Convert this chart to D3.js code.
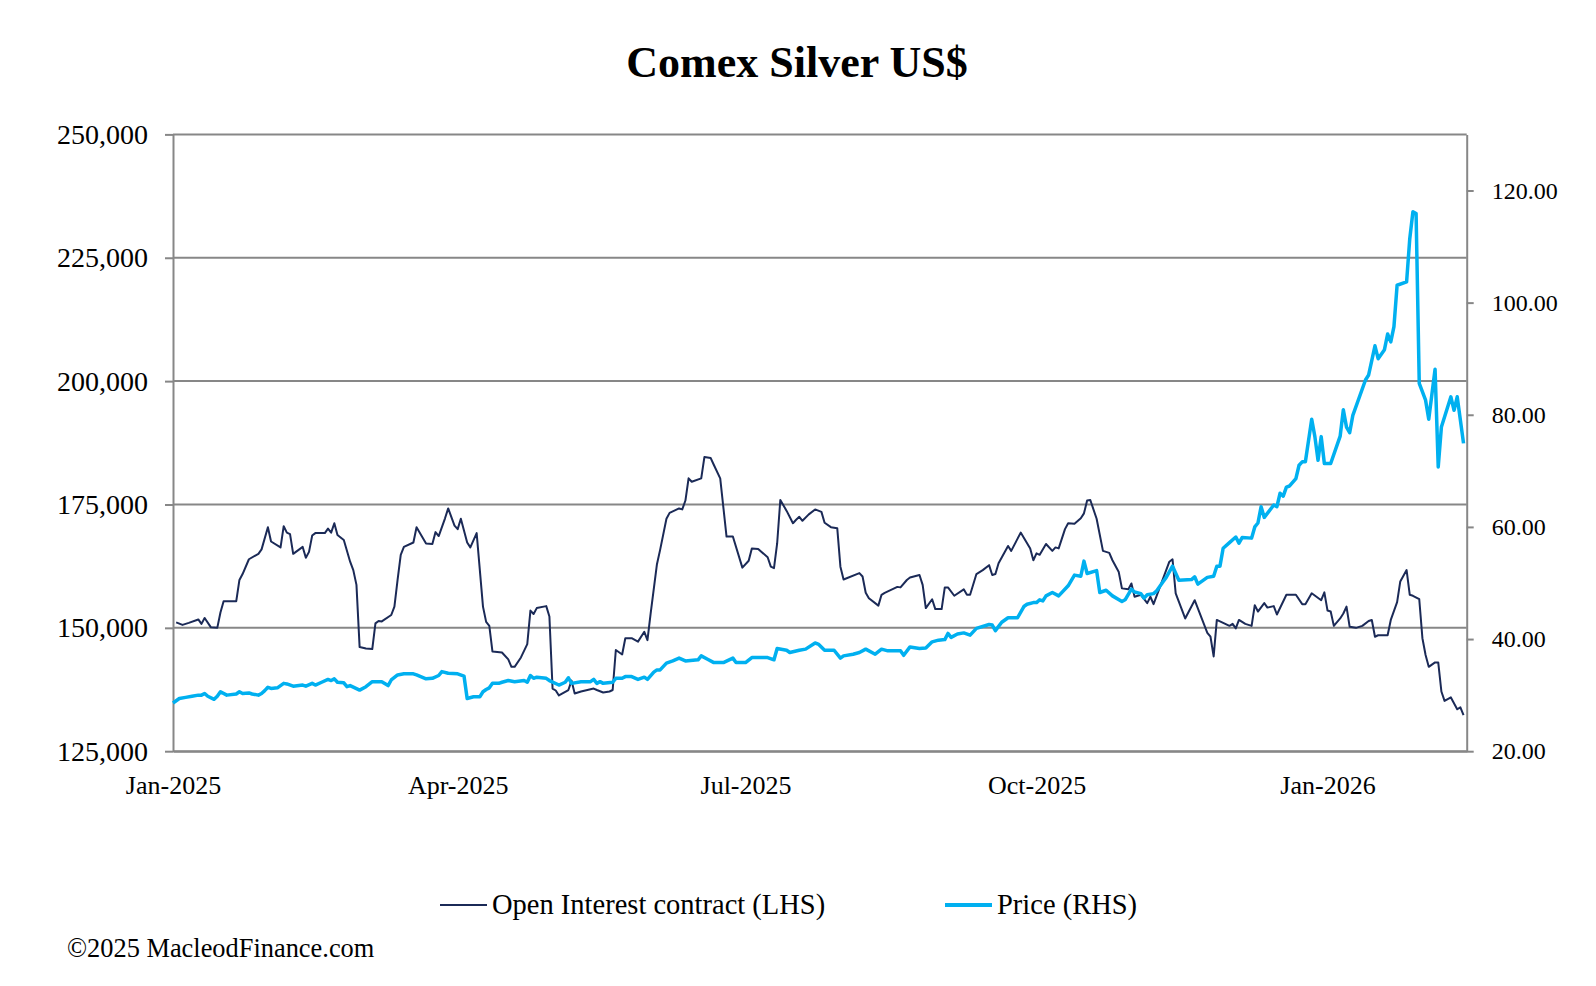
<!DOCTYPE html>
<html>
<head>
<meta charset="utf-8">
<script src="https://cdnjs.cloudflare.com/ajax/libs/d3/7.8.5/d3.min.js"></script>
<style>
  body { margin: 0; background: #fff; }
  text { font-family: "Liberation Serif", "Times New Roman", serif; fill: #000; }
</style>
</head>
<body>
<div id="chart"></div>
<script>
// Open interest (days counted from 1 Jan 2025)
const oiDays = [1,3,5,8,9,10,12,14,15,16,20,21,22,24,27,28,30,31,34,35,36,37,38,41,42,43,44,45,48,49,50,51,52,54,56,57,58,59,61,63,64,65,66,69,70,71,72,73,76,77,80,82,83,84,86,87,89,90,91,93,94,96,98,99,100,101,104,106,107,108,110,112,113,114,115,118,119,120,121,122,125,126,127,129,133,134,136,138,139,140,142,143,145,147,149,150,151,153,154,156,157,160,161,162,163,164,167,168,170,171,173,175,177,180,182,183,185,188,189,190,191,192,194,196,197,198,199,201,203,205,206,208,210,211,212,217,218,219,220,223,224,225,227,229,230,232,233,236,237,238,240,241,243,244,245,247,250,251,252,254,256,258,259,260,261,264,265,268,271,272,273,274,276,278,279,280,282,283,285,287,288,289,290,292,294,296,297,299,300,302,303,304,306,308,309,310,315,316,317,320,323,327,328,329,330,334,335,336,337,339,341,342,343,345,346,348,349,352,355,357,358,360,363,364,365,366,367,369,370,371,372,374,376,378,379,380,381,384,385,387,388,390,391,392,394,395,396,397,399,400,401,402,404,406,407,408];
const oiValues = [151100,150600,151000,151700,150800,152000,150100,150000,153100,155400,155400,159700,160900,163900,165000,165900,170400,167500,166300,170600,169300,169000,165000,166400,164200,165400,168700,169200,169200,170100,169300,171200,168800,167800,163400,161700,158700,146100,145800,145700,150900,151400,151300,152600,154300,159700,164800,166400,167300,170400,167100,167000,169400,168600,172200,174200,170700,170000,172100,167300,166300,169200,154300,151200,150400,145200,145000,143600,142100,142100,144000,146700,153500,152800,154000,154400,152300,137700,137300,136300,137400,139300,136700,137100,137700,137400,136900,137100,137400,145500,144600,147900,147900,147200,149200,147500,152900,162900,165800,172100,173300,174200,174000,175800,180300,179600,180300,184600,184400,183000,180300,168500,168500,162200,163600,166100,166000,164300,162400,162100,167100,175900,173700,171200,171900,172500,171700,173000,174000,173500,171300,170400,170200,162400,159800,161100,160400,157100,156000,154500,156700,157100,157700,158300,158200,159700,160200,160700,158700,154000,155800,153800,153800,158200,158200,156500,157800,156700,156700,160900,161700,162700,160700,160900,163100,166600,165600,169300,166100,163700,165100,164800,167000,165600,166300,166100,170000,171200,171100,172200,173200,175800,175900,172100,165600,165200,163700,161300,158000,157800,159000,156300,156700,155000,156300,154800,163400,163900,157000,151900,155600,149000,148200,144200,151600,150400,150800,149900,151600,150800,150400,154600,153300,155000,154100,154400,152700,156700,156700,154800,154800,157000,155600,157200,153500,153300,150400,151900,152900,154300,150200,150000,150400,151400,151600,148200,148500,148500,151600,155200,159400,161700,156700,156500,155800,147900,144500,142100,143000,143000,137100,135200,135900,133500,133900,132300];

// Silver price US$
const priceDays = [0,2,4,6,8,9,10,11,13,14,15,17,20,21,22,24,25,27,28,29,30,31,33,35,36,38,41,42,44,45,47,49,50,51,52,54,55,56,59,61,63,66,68,69,71,73,76,77,80,82,84,85,87,90,92,93,95,97,98,99,100,101,103,104,106,108,111,112,113,114,115,118,119,122,124,125,126,129,132,133,134,135,136,139,140,142,143,145,147,149,150,152,153,154,156,158,160,162,166,167,169,171,174,177,178,181,183,188,190,191,194,195,198,200,203,204,206,209,211,212,215,217,219,222,224,226,230,231,233,236,238,240,242,244,245,246,248,250,252,254,258,259,260,262,264,267,269,270,272,273,274,275,276,278,280,283,285,287,288,289,292,293,295,297,300,301,303,304,306,307,308,310,311,313,314,316,318,322,323,324,327,329,330,331,332,334,336,337,338,341,342,343,344,345,348,349,350,351,352,353,355,356,357,358,360,361,362,363,364,366,369,370,371,372,373,377,378,380,381,383,384,385,386,387,390,391,392,393,394,396,397,399,400,401,404,405,406,408];
const priceValues = [28.6,29.4,29.6,29.8,30.0,30.0,30.3,29.8,29.25,29.8,30.6,30.0,30.2,30.6,30.3,30.4,30.2,30.0,30.3,30.8,31.4,31.2,31.3,32.1,32.0,31.6,31.8,31.6,32.1,31.8,32.3,32.8,32.6,32.9,32.3,32.2,31.5,31.7,30.9,31.5,32.4,32.4,31.7,32.7,33.6,33.8,33.8,33.6,32.9,33.0,33.5,34.2,33.9,33.8,33.4,29.4,29.7,29.7,30.6,31.0,31.3,32.1,32.1,32.3,32.6,32.4,32.6,32.3,33.5,33.0,33.2,33.0,32.6,31.8,32.3,33.1,32.1,32.4,32.4,32.8,32.1,32.4,32.1,32.3,33.0,33.0,33.3,33.3,32.8,33.2,32.8,34.1,34.5,34.5,35.7,36.1,36.6,36.1,36.3,37.0,36.4,35.8,35.8,36.6,35.8,35.8,36.7,36.7,36.3,38.3,38.0,37.6,38.0,38.2,39.3,39.1,38.0,38.0,36.6,37.0,37.3,37.6,38.2,37.3,38.2,37.9,37.9,37.1,38.6,38.3,38.4,39.5,39.8,39.9,41.0,40.3,40.9,41.1,40.7,41.9,42.6,42.5,41.5,43.0,43.8,43.8,45.8,46.2,46.5,46.5,47.0,46.8,47.7,48.3,47.7,49.5,51.4,51.2,53.9,51.7,52.2,48.3,48.7,47.7,46.7,47.0,48.9,48.4,48.1,47.3,47.9,48.1,48.6,50.2,51.0,53.0,50.5,50.6,51.1,49.8,51.0,51.2,53.0,53.0,56.2,57.2,58.2,57.1,58.1,58.0,60.0,60.7,63.6,61.7,63.9,63.6,66.0,65.5,67.1,67.3,68.6,71.0,71.6,71.6,79.2,76.1,71.9,76.1,71.3,71.3,76.2,80.9,77.8,76.8,79.9,86.2,87.1,92.3,90.0,91.6,94.4,93.0,95.7,103.1,103.7,111.4,116.2,115.9,85.6,82.6,79.2,88.1,70.7,77.8,83.2,80.8,83.2,74.9];

// Axis ticks
const leftTicks = [125000, 150000, 175000, 200000, 225000, 250000];
const rightTicks = [20, 40, 60, 80, 100, 120];
const monthTicks = ["2025-01-01", "2025-04-01", "2025-07-01", "2025-10-01", "2026-01-01"];

const width = 1596;
const height = 986;
const plot = { left: 173, right: 1466.7, top: 134.4, bottom: 751.2 };
const gridColor = "#878787";
const oiColor = "#1b2a57";
const priceColor = "#00b0f0";

const start = new Date(2025, 0, 1);
const toDate = d => d3.timeDay.offset(start, d);
const parse = d3.timeParse("%Y-%m-%d");

const svg = d3.select("#chart")
    .append("svg")
    .attr("width", width)
    .attr("height", height);

const x = d3.scaleTime()
    .domain([start, new Date(2026, 1, 14)])
    .range([plot.left, plot.right]);

const yLeft = d3.scaleLinear()
    .domain([125000, 250000])
    .range([plot.bottom, plot.top]);

const yRight = d3.scaleLinear()
    .domain([20, 130])
    .range([plot.bottom, plot.top]);

// Gridlines
svg.append("g")
    .selectAll("line")
    .data(leftTicks)
    .enter().append("line")
    .attr("x1", plot.left)
    .attr("x2", plot.right)
    .attr("y1", d => yLeft(d))
    .attr("y2", d => yLeft(d))
    .attr("stroke", gridColor)
    .attr("stroke-width", 2);

// Left axis
const gLeft = svg.append("g")
    .attr("transform", `translate(${plot.left},0)`)
    .call(d3.axisLeft(yLeft).tickValues(leftTicks).tickSize(8).tickSizeOuter(0)
        .tickPadding(17).tickFormat(d3.format(",")));

// Right axis
const gRight = svg.append("g")
    .attr("transform", `translate(${plot.right},0)`)
    .call(d3.axisRight(yRight).tickValues(rightTicks).tickSize(7).tickSizeOuter(0)
        .tickPadding(18).tickFormat(d3.format(".2f")));

// Bottom axis
const gBottom = svg.append("g")
    .attr("transform", `translate(0,${plot.bottom})`)
    .call(d3.axisBottom(x).tickValues(monthTicks.map(parse)).tickSize(0).tickSizeOuter(0)
        .tickPadding(24).tickFormat(d3.timeFormat("%b-%Y")));

[gLeft, gRight, gBottom].forEach(g => {
    g.selectAll("path, line").attr("stroke", gridColor).attr("stroke-width", 2);
    g.selectAll("text").attr("fill", "#000").style("font-family", '"Liberation Serif", serif');
});
gLeft.selectAll("text").style("font-size", "28px");
gRight.selectAll("text").style("font-size", "24px");
gBottom.selectAll("text").style("font-size", "26px");

// Lines
const oiLine = d3.line()
    .x((d, i) => x(toDate(oiDays[i])))
    .y(d => yLeft(d));

const priceLine = d3.line()
    .x((d, i) => x(toDate(priceDays[i])))
    .y(d => yRight(d));

svg.append("path")
    .datum(oiValues)
    .attr("d", oiLine)
    .attr("fill", "none")
    .attr("stroke", oiColor)
    .attr("stroke-width", 2)
    .attr("stroke-linejoin", "round");

svg.append("path")
    .datum(priceValues)
    .attr("d", priceLine)
    .attr("fill", "none")
    .attr("stroke", priceColor)
    .attr("stroke-width", 3.5)
    .attr("stroke-linejoin", "round");

// Title
svg.append("text")
    .attr("x", 797)
    .attr("y", 77)
    .attr("text-anchor", "middle")
    .style("font-size", "44px")
    .style("font-weight", "bold")
    .text("Comex Silver US$");

// Legend
const legend = [
    { name: "Open Interest contract (LHS)", color: oiColor, w: 2, x: 440 },
    { name: "Price (RHS)", color: priceColor, w: 4, x: 945 }
];
legend.forEach(l => {
    svg.append("line")
        .attr("x1", l.x).attr("x2", l.x + 47)
        .attr("y1", 905).attr("y2", 905)
        .attr("stroke", l.color)
        .attr("stroke-width", l.w);
    svg.append("text")
        .attr("x", l.x + 52)
        .attr("y", 914)
        .style("font-size", "28.5px")
        .text(l.name);
});

// Footer
svg.append("text")
    .attr("x", 67)
    .attr("y", 957)
    .style("font-size", "26.4px")
    .text("©2025 MacleodFinance.com");
</script>
</body>
</html>
